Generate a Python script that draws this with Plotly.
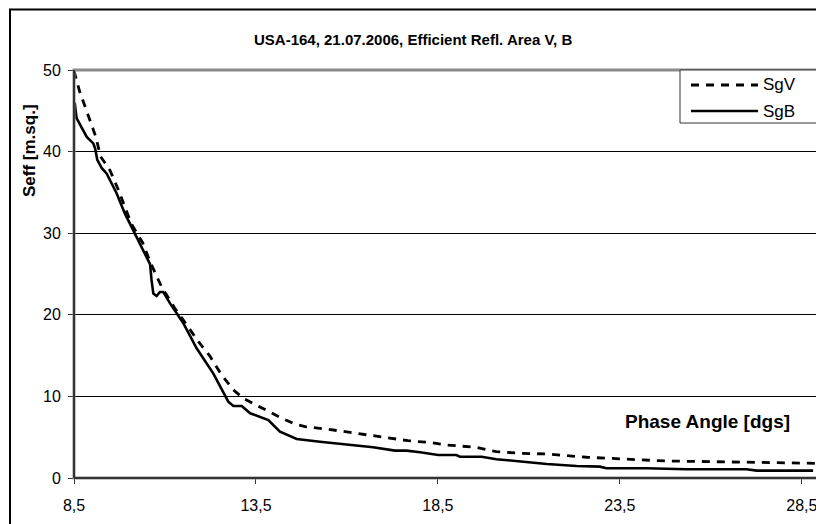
import plotly.graph_objects as go

# ---- data ----
sgv_x = [8.50, 8.66, 8.87, 9.10, 9.23, 9.49, 9.72, 9.90, 10.07, 10.39, 10.60, 10.91,
         11.27, 11.60, 11.92, 12.24, 12.56, 12.88, 13.15, 13.56, 13.93, 14.21, 14.57,
         14.85, 15.44, 16.04, 16.63, 17.27, 17.68, 18.33, 18.74, 19.56, 20.11, 20.75,
         21.49, 22.59, 23.68, 24.78, 26.06, 27.62, 28.90]
sgv_y = [49.9, 47.3, 44.7, 41.8, 39.4, 37.7, 35.3, 33.2, 31.2, 28.8, 26.4, 23.4,
         20.8, 18.75, 16.7, 14.9, 12.6, 10.8, 9.77, 8.82, 7.93, 7.32, 6.62,
         6.29, 6.0, 5.6, 5.27, 4.87, 4.57, 4.33, 4.04, 3.76, 3.22, 3.03,
         2.94, 2.54, 2.29, 2.08, 2.0, 1.88, 1.8]

sgb_x = [8.50, 8.52, 8.57, 8.66, 8.85, 9.03, 9.08, 9.14, 9.26, 9.40, 9.67, 9.90,
         10.13, 10.40, 10.59, 10.63, 10.68, 10.77, 10.86, 10.95, 11.14, 11.50, 11.87,
         12.33, 12.74, 12.88, 13.11, 13.34, 13.84, 14.16, 14.34, 14.62, 15.26, 16.08,
         16.72, 17.32, 17.64, 18.01, 18.51, 19.01, 19.10, 19.70, 20.11, 20.57, 21.49,
         22.31, 22.95, 23.13, 24.23, 25.33, 26.98, 27.26, 28.81]
sgb_y = [44.6, 46.0, 44.1, 43.3, 41.8, 41.0, 40.4, 39.0, 38.0, 37.3, 34.9, 32.4,
         30.4, 27.9, 26.2, 24.3, 22.6, 22.3, 22.8, 22.8, 21.4, 19.0, 15.9,
         12.8, 9.35, 8.82, 8.82, 7.93, 7.1, 5.67, 5.35, 4.78, 4.45, 4.04,
         3.76, 3.35, 3.35, 3.15, 2.82, 2.82, 2.61, 2.61, 2.29, 2.12, 1.72,
         1.47, 1.39, 1.19, 1.19, 1.07, 1.07, 0.9, 0.9]

x_ticks = [8.5, 13.5, 18.5, 23.5, 28.5]
x_tick_labels = ["8,5", "13,5", "18,5", "23,5", "28,5"]
y_ticks = [0, 10, 20, 30, 40, 50]

title_text = "USA-164, 21.07.2006, Efficient Refl. Area V, B"
y_title = "Seff [m.sq.]"
x_title = "Phase Angle [dgs]"
series_names = ["SgV", "SgB"]

FONT = "Liberation Sans, Arial, sans-serif"

# The page body has an 8px margin, so the figure is shifted by OFF.
OFF = 8
W, H = 824 - OFF, 524 - OFF
# plot area in page pixels (reference coordinates)
L, R, T, B = 74, 820, 70, 478
pw, ph = R - L, B - T


def px(xp):
    return (xp - L) / pw


def py(yp):
    return (B - yp) / ph


fig = go.Figure()
fig.add_trace(go.Scatter(x=sgv_x, y=sgv_y, mode="lines", name=series_names[0],
                         line=dict(color="black", width=2.8, dash="8px,7px"),
                         showlegend=False))
fig.add_trace(go.Scatter(x=sgb_x, y=sgb_y, mode="lines", name=series_names[1],
                         line=dict(color="black", width=2.6),
                         showlegend=False))

shapes = []
# outer chart border
shapes.append(dict(type="rect", xref="paper", yref="paper",
                   x0=px(10), x1=px(840), y0=py(540), y1=py(9.5),
                   line=dict(color="black", width=2), layer="below"))
# plot area border (gray)
shapes.append(dict(type="rect", xref="paper", yref="paper",
                   x0=0, x1=1, y0=0, y1=1,
                   line=dict(color="#8a8a8a", width=3), layer="above"))
# left & bottom axis lines dark
shapes.append(dict(type="line", xref="paper", yref="paper", x0=0, x1=0, y0=0, y1=1,
                   line=dict(color="#333333", width=2), layer="above"))
shapes.append(dict(type="line", xref="paper", yref="paper", x0=0, x1=1, y0=0, y1=0,
                   line=dict(color="#333333", width=2), layer="above"))
# legend box
shapes.append(dict(type="rect", xref="paper", yref="paper",
                   x0=px(680), x1=px(818), y0=py(123), y1=py(70),
                   line=dict(color="#333333", width=1), fillcolor="white", layer="above"))
shapes.append(dict(type="line", xref="paper", yref="paper",
                   x0=px(691), x1=px(758), y0=py(85), y1=py(85),
                   line=dict(color="black", width=2.8, dash="8px,7px"), layer="above"))
shapes.append(dict(type="line", xref="paper", yref="paper",
                   x0=px(691), x1=px(758), y0=py(111), y1=py(111),
                   line=dict(color="black", width=2.6), layer="above"))

annotations = [
    dict(text="<b>" + title_text + "</b>", xref="paper", yref="paper",
         x=px(413), y=py(39), xanchor="center", yanchor="middle", showarrow=False,
         font=dict(family=FONT, size=15, color="black")),
    dict(text="<b>" + y_title + "</b>", xref="paper", yref="paper",
         x=px(29), y=py(151), xanchor="center", yanchor="middle", showarrow=False,
         textangle=-90, font=dict(family=FONT, size=17, color="black")),
    dict(text="<b>" + x_title + "</b>", xref="paper", yref="paper",
         x=px(792), y=py(421), xanchor="right", yanchor="middle", showarrow=False,
         font=dict(family=FONT, size=19, color="black")),
    dict(text=series_names[0], xref="paper", yref="paper",
         x=px(761), y=py(84), xanchor="left", yanchor="middle", showarrow=False,
         font=dict(family=FONT, size=17, color="black")),
    dict(text=series_names[1], xref="paper", yref="paper",
         x=px(761), y=py(111), xanchor="left", yanchor="middle", showarrow=False,
         font=dict(family=FONT, size=17, color="black")),
]

fig.update_layout(
    width=W, height=H,
    margin=dict(l=L - OFF, r=(W + OFF) - R, t=T - OFF, b=(H + OFF) - B, pad=0),
    paper_bgcolor="white", plot_bgcolor="white",
    shapes=shapes, annotations=annotations,
    font=dict(family=FONT, size=16, color="black"),
    xaxis=dict(range=[8.5, 29.0], tickvals=x_ticks, ticktext=x_tick_labels,
               ticks="outside", ticklen=5, tickcolor="#333333", showgrid=False,
               zeroline=False, showline=False, ticklabelstandoff=8,
               tickfont=dict(family=FONT, size=16, color="black")),
    yaxis=dict(range=[0, 50], tickvals=y_ticks, ticks="outside", ticklen=5,
               tickcolor="#333333", showgrid=True, gridcolor="black", gridwidth=1,
               zeroline=False, showline=False, ticklabelstandoff=4,
               tickfont=dict(family=FONT, size=16, color="black")),
)

fig.write_html("out.html")
